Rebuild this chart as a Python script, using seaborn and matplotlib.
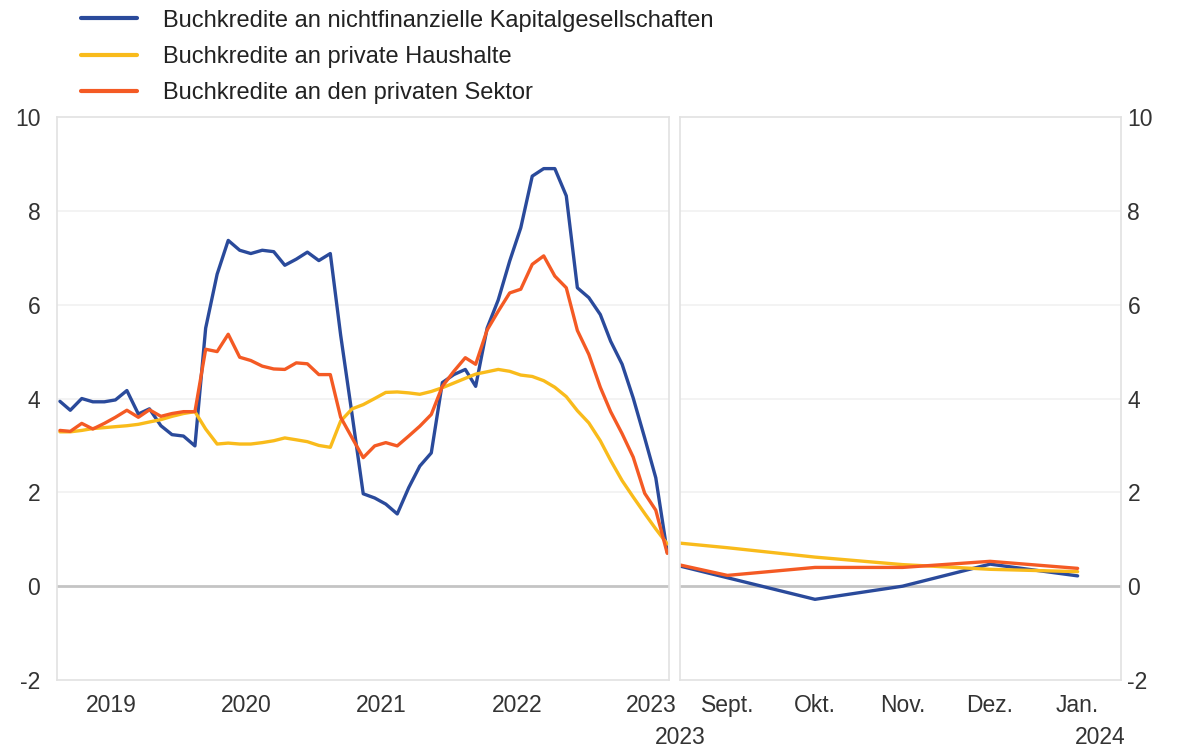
import pandas as pd
import numpy as np
import seaborn as sns
import matplotlib.pyplot as plt

# annual growth rates, monthly, Feb 2019 - Aug 2023 (left panel)
months = pd.date_range("2019-02-01", periods=55, freq="MS")
nfc = [3.94, 3.75, 4.00, 3.93, 3.93, 3.97, 4.17, 3.67, 3.78, 3.42, 3.23, 3.20, 2.99,
       5.50, 6.65, 7.37, 7.16, 7.09, 7.16, 7.13, 6.84, 6.97, 7.12, 6.94, 7.09,
       5.35, 3.65, 1.97, 1.88, 1.75, 1.54, 2.10, 2.56, 2.84, 4.34, 4.51, 4.62, 4.26,
       5.50, 6.10, 6.93, 7.64, 8.74, 8.90, 8.90, 8.32, 6.36, 6.15,
       5.79, 5.22, 4.73, 4.01, 3.16, 2.31, 0.72]
households = [3.29, 3.29, 3.32, 3.36, 3.38, 3.40, 3.42, 3.45, 3.50, 3.55, 3.62, 3.68, 3.72,
              3.35, 3.03, 3.05, 3.03, 3.03, 3.06, 3.10, 3.16, 3.12, 3.08, 3.00, 2.96,
              3.52, 3.78, 3.87, 4.00, 4.13, 4.14, 4.12, 4.09, 4.15, 4.23, 4.33, 4.43, 4.52,
              4.57, 4.62, 4.58, 4.50, 4.47, 4.38, 4.24, 4.04, 3.74, 3.48,
              3.10, 2.68, 2.25, 1.90, 1.55, 1.22, 0.90]
private = [3.32, 3.30, 3.47, 3.35, 3.47, 3.60, 3.75, 3.60, 3.76, 3.62, 3.68, 3.72, 3.72,
           5.05, 5.00, 5.37, 4.88, 4.81, 4.69, 4.63, 4.62, 4.76, 4.74, 4.51, 4.51,
           3.60, 3.16, 2.74, 2.99, 3.06, 2.99, 3.20, 3.41, 3.66, 4.26, 4.58, 4.87, 4.73,
           5.46, 5.86, 6.25, 6.33, 6.86, 7.04, 6.61, 6.36, 5.45, 4.94,
           4.24, 3.72, 3.25, 2.75, 1.98, 1.62, 0.70]

# right panel: Aug 2023 - Jan 2024
recent_labels = ["Aug.", "Sept.", "Okt.", "Nov.", "Dez.", "Jan."]
nfc_recent = [0.64, 0.18, -0.28, 0.0, 0.47, 0.22]
households_recent = [1.0, 0.82, 0.62, 0.46, 0.36, 0.31]
private_recent = [0.64, 0.23, 0.40, 0.40, 0.53, 0.38]

year_labels = ["2019", "2020", "2021", "2022", "2023"]

names = ["Buchkredite an nichtfinanzielle Kapitalgesellschaften",
         "Buchkredite an private Haushalte",
         "Buchkredite an den privaten Sektor"]
colors = ["#2a4a9b", "#f9bb1b", "#f45a24"]

left = pd.DataFrame({"date": np.tile(months, 3),
                     "value": nfc + households + private,
                     "series": np.repeat(names, len(months))})
right = pd.DataFrame({"pos": np.tile(np.arange(len(recent_labels)), 3),
                      "value": nfc_recent + households_recent + private_recent,
                      "series": np.repeat(names, len(recent_labels))})

sns.set_theme(style="white")
plt.rcParams["font.family"] = ["Liberation Sans", "DejaVu Sans"]
plt.rcParams["axes.unicode_minus"] = False

fig = plt.figure(figsize=(11.87, 7.51), dpi=100)
ax1 = fig.add_axes([0.048, 0.0945, 0.516, 0.7497])
ax2 = fig.add_axes([0.573, 0.0945, 0.371, 0.7497])

for ax in (ax1, ax2):
    ax.set_ylim(-2, 10)
    ax.set_yticks(range(-2, 11, 2))
    for y in range(2, 10, 2):
        ax.axhline(y, color="#f1f1f1", lw=1.2, zorder=0)
    ax.axhline(0, color="#c4c4c4", lw=2, zorder=1)
    for s in ax.spines.values():
        s.set_color("#e2e2e2")
        s.set_linewidth(1.2)

sns.lineplot(data=left, x="date", y="value", hue="series", palette=colors,
             linewidth=2.4, ax=ax1, legend=True)
sns.lineplot(data=right, x="pos", y="value", hue="series", palette=colors,
             linewidth=2.4, ax=ax2, legend=False)

handles, labels = ax1.get_legend_handles_labels()
ax1.get_legend().remove()
for ax in (ax1, ax2):
    ax.set_xlabel("")
    ax.set_ylabel("")

# left panel x axis
ax1.set_xlim(months[0] - pd.Timedelta(days=8), months[-1] + pd.Timedelta(days=6))
ax1.set_xticks([pd.Timestamp(y + "-06-20") for y in year_labels])
ax1.set_xticklabels(year_labels)

# right panel x axis
ax2.set_xlim(0.46, 5.49)
ax2.set_xticks(range(1, len(recent_labels)))
ax2.set_xticklabels(recent_labels[1:])
ax2.yaxis.tick_right()
ax2.text(0, -0.102, "2023", transform=ax2.transAxes, ha="center", va="center",
         fontsize=16.5, color="#333333")
ax2.text(1.012, -0.102, "2024", transform=ax2.transAxes, ha="right", va="center",
         fontsize=16.5, color="#333333")

ax1.tick_params(axis="y", length=0, pad=12, labelsize=16.5, labelcolor="#333333")
ax2.tick_params(axis="y", length=0, pad=5, labelsize=16.5, labelcolor="#333333",
                labelleft=False, labelright=True)
for ax in (ax1, ax2):
    ax.tick_params(axis="x", length=0, pad=10, labelsize=16.5, labelcolor="#333333")

fig.legend(handles, labels, loc="upper left", bbox_to_anchor=(0.056, 1.006),
           frameon=False, fontsize=17, handlelength=2.4, handletextpad=1.1,
           labelspacing=0.6, borderaxespad=0.2)
for t in fig.legends[0].get_texts():
    t.set_color("#222222")
for h in fig.legends[0].get_lines():
    h.set_linewidth(3)

plt.savefig("out.png", dpi=100)
